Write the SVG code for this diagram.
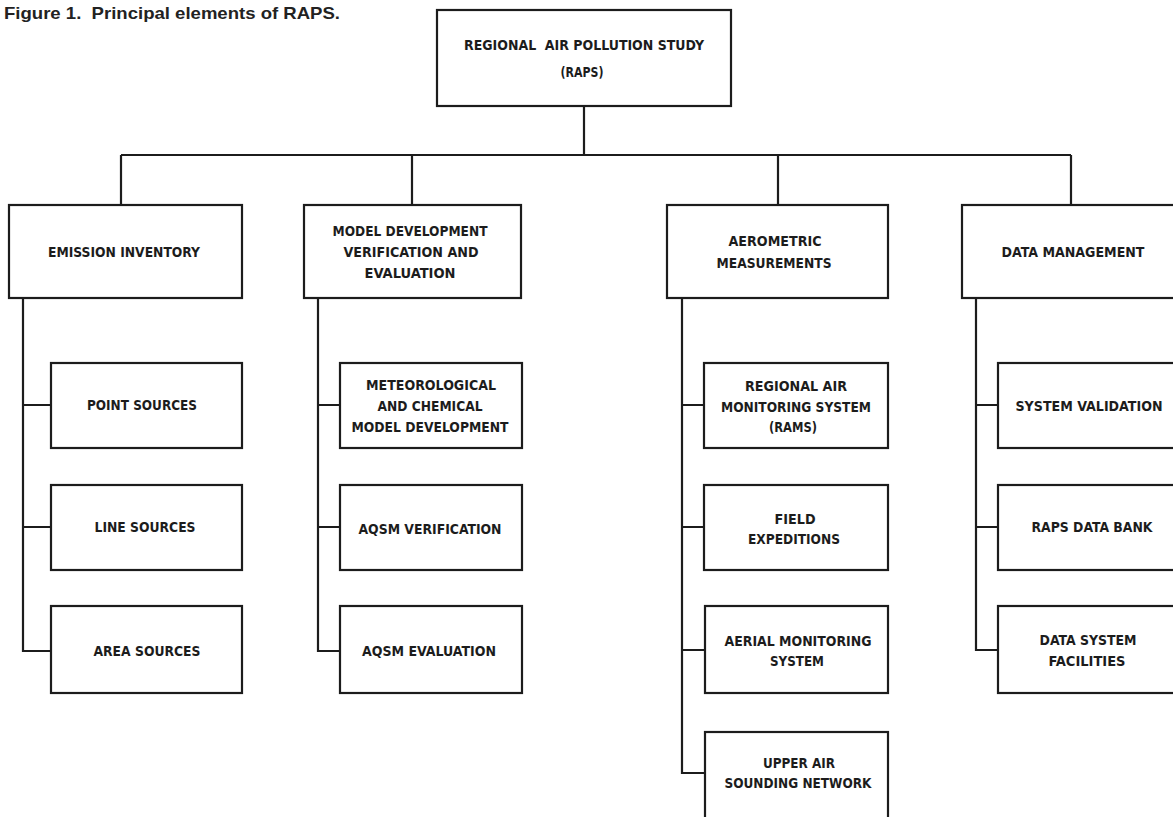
<svg xmlns="http://www.w3.org/2000/svg" width="1173" height="817" viewBox="0 0 1173 817">
<style>
.box{fill:#fff;stroke:#1c1c1c;stroke-width:2.2}
.ln{fill:none;stroke:#1c1c1c;stroke-width:2.2}
.t{font-family:"Liberation Sans Narrow","DejaVu Sans Condensed","Liberation Sans",sans-serif;font-weight:bold;font-size:14.5px;fill:#1c1c1c;text-anchor:middle;white-space:pre}
.title{font-family:"Liberation Sans","Helvetica",Arial,sans-serif;font-weight:bold;font-size:17px;fill:#222;white-space:pre}
</style>
<rect width="1173" height="817" fill="#fff"/>
<text class="title" x="4" y="19" textLength="336" lengthAdjust="spacingAndGlyphs">Figure 1.  Principal elements of RAPS.</text>
<g id="connectors">
<path class="ln" d="M584,106V155M121,155H1071M121,155V205M412,155V205M778,155V205M1071,155V205"/>
<path class="ln" d="M23,298V651H51M23,405H51M23,527H51"/>
<path class="ln" d="M318,298V651H340M318,405H340M318,527H340"/>
<path class="ln" d="M682,298V773H705M682,405H704M682,527H704M682,650H704"/>
<path class="ln" d="M976,298V650H998M976,405H998M976,527H998"/>
</g>
<g id="raps">
<rect class="box" x="437" y="10" width="294" height="96"/>
<text class="t" x="584" y="50" textLength="240" lengthAdjust="spacingAndGlyphs">REGIONAL  AIR POLLUTION STUDY</text>
<text class="t" x="582" y="77" textLength="43" lengthAdjust="spacingAndGlyphs">(RAPS)</text>
</g>
<g id="emission">
<rect class="box" x="9" y="205" width="233" height="93"/>
<text class="t" x="124" y="257" textLength="152" lengthAdjust="spacingAndGlyphs">EMISSION INVENTORY</text>
</g>
<g id="model">
<rect class="box" x="304" y="205" width="217" height="93"/>
<text class="t" x="410" y="236" textLength="155" lengthAdjust="spacingAndGlyphs">MODEL DEVELOPMENT</text>
<text class="t" x="411" y="257" textLength="135" lengthAdjust="spacingAndGlyphs">VERIFICATION AND</text>
<text class="t" x="410" y="278" textLength="91" lengthAdjust="spacingAndGlyphs">EVALUATION</text>
</g>
<g id="aero">
<rect class="box" x="667" y="205" width="221" height="93"/>
<text class="t" x="775" y="246" textLength="93" lengthAdjust="spacingAndGlyphs">AEROMETRIC</text>
<text class="t" x="774" y="268" textLength="115" lengthAdjust="spacingAndGlyphs">MEASUREMENTS</text>
</g>
<g id="datamgmt">
<rect class="box" x="962" y="205" width="230" height="93"/>
<text class="t" x="1073" y="257" textLength="143" lengthAdjust="spacingAndGlyphs">DATA MANAGEMENT</text>
</g>
<g id="point">
<rect class="box" x="51" y="363" width="191" height="85"/>
<text class="t" x="142" y="410" textLength="110" lengthAdjust="spacingAndGlyphs">POINT SOURCES</text>
</g>
<g id="line">
<rect class="box" x="51" y="485" width="191" height="85"/>
<text class="t" x="145" y="532" textLength="101" lengthAdjust="spacingAndGlyphs">LINE SOURCES</text>
</g>
<g id="area">
<rect class="box" x="51" y="606" width="191" height="87"/>
<text class="t" x="147" y="656" textLength="107" lengthAdjust="spacingAndGlyphs">AREA SOURCES</text>
</g>
<g id="metchem">
<rect class="box" x="340" y="363" width="182" height="85"/>
<text class="t" x="431" y="390" textLength="130" lengthAdjust="spacingAndGlyphs">METEOROLOGICAL</text>
<text class="t" x="430" y="411" textLength="105" lengthAdjust="spacingAndGlyphs">AND CHEMICAL</text>
<text class="t" x="430" y="432" textLength="157" lengthAdjust="spacingAndGlyphs">MODEL DEVELOPMENT</text>
</g>
<g id="aqsmver">
<rect class="box" x="340" y="485" width="182" height="85"/>
<text class="t" x="430" y="534" textLength="143" lengthAdjust="spacingAndGlyphs">AQSM VERIFICATION</text>
</g>
<g id="aqsmeval">
<rect class="box" x="340" y="606" width="182" height="87"/>
<text class="t" x="429" y="656" textLength="134" lengthAdjust="spacingAndGlyphs">AQSM EVALUATION</text>
</g>
<g id="rams">
<rect class="box" x="704" y="363" width="184" height="85"/>
<text class="t" x="796" y="391" textLength="102" lengthAdjust="spacingAndGlyphs">REGIONAL AIR</text>
<text class="t" x="796" y="412" textLength="150" lengthAdjust="spacingAndGlyphs">MONITORING SYSTEM</text>
<text class="t" x="793" y="432" textLength="48" lengthAdjust="spacingAndGlyphs">(RAMS)</text>
</g>
<g id="field">
<rect class="box" x="704" y="485" width="184" height="85"/>
<text class="t" x="795" y="524" textLength="41" lengthAdjust="spacingAndGlyphs">FIELD</text>
<text class="t" x="794" y="544" textLength="92" lengthAdjust="spacingAndGlyphs">EXPEDITIONS</text>
</g>
<g id="aerial">
<rect class="box" x="705" y="606" width="183" height="87"/>
<text class="t" x="798" y="646" textLength="147" lengthAdjust="spacingAndGlyphs">AERIAL MONITORING</text>
<text class="t" x="797" y="666" textLength="54" lengthAdjust="spacingAndGlyphs">SYSTEM</text>
</g>
<g id="upperair">
<rect class="box" x="705" y="732" width="183" height="95"/>
<text class="t" x="799" y="768" textLength="72" lengthAdjust="spacingAndGlyphs">UPPER AIR</text>
<text class="t" x="798" y="788" textLength="147" lengthAdjust="spacingAndGlyphs">SOUNDING NETWORK</text>
</g>
<g id="sysval">
<rect class="box" x="998" y="363" width="194" height="85"/>
<text class="t" x="1089" y="411" textLength="147" lengthAdjust="spacingAndGlyphs">SYSTEM VALIDATION</text>
</g>
<g id="databank">
<rect class="box" x="998" y="485" width="194" height="85"/>
<text class="t" x="1092" y="532" textLength="121" lengthAdjust="spacingAndGlyphs">RAPS DATA BANK</text>
</g>
<g id="facilities">
<rect class="box" x="998" y="606" width="194" height="87"/>
<text class="t" x="1088" y="645" textLength="97" lengthAdjust="spacingAndGlyphs">DATA SYSTEM</text>
<text class="t" x="1087" y="666" textLength="77" lengthAdjust="spacingAndGlyphs">FACILITIES</text>
</g>
</svg>
